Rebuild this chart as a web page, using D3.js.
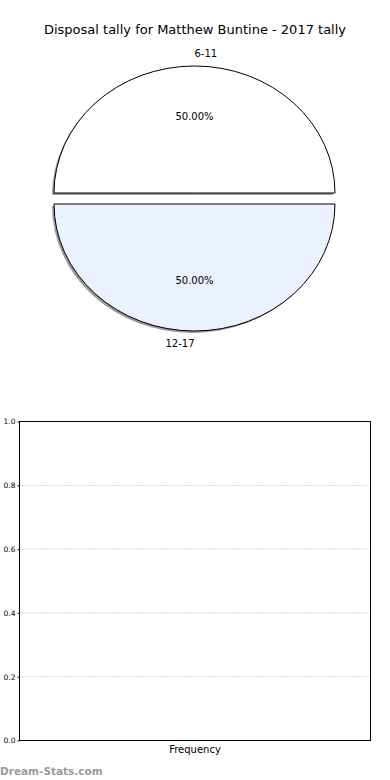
<!DOCTYPE html>
<html><head><meta charset="utf-8">
<script src="https://cdn.jsdelivr.net/npm/d3@7"></script>
<style>body{margin:0;background:#fff}svg{display:block;font-family:"DejaVu Sans",sans-serif}</style>
</head><body><svg id="c" width="390" height="780"></svg>
<script>
const title = "Disposal tally for Matthew Buntine - 2017 tally";
const categories = ["6-11", "12-17"];
const values = [1, 1];
const sliceColors = ["#ffffff", "#ebf1fe"];
const yTicks = [0.0, 0.2, 0.4, 0.6, 0.8, 1.0];
const xLabel = "Frequency";
const watermark = "Dream-Stats.com";

(function () {
const svg = d3.select("#c");
svg.append("text").attr("x", 195).attr("y", 34).attr("text-anchor", "middle")
  .attr("font-size", 13).text(title);

// Pie (elliptical, matplotlib-like)
const cx = 194.5, cy = 198.5, rx = 140.5, ry = 127, explode = 5.5;
const sy = ry / rx;
const pie = d3.pie().sort(null).startAngle(Math.PI / 2).endAngle(Math.PI / 2 - 2 * Math.PI);
const arcs = pie(values);
const arc = d3.arc().innerRadius(0).outerRadius(rx);
const total = d3.sum(values);
const g = svg.append("g");
arcs.forEach((a, i) => {
  const mid = (a.startAngle + a.endAngle) / 2;
  const ox = cx + Math.sin(mid) * explode, oy = cy - Math.cos(mid) * explode;
  g.append("path").attr("d", arc(a))
    .attr("transform", `translate(${ox - 2},${oy + 2}) scale(1,${sy})`)
    .attr("fill", "#7f7f7f").attr("opacity", 0.8);
});
arcs.forEach((a, i) => {
  const mid = (a.startAngle + a.endAngle) / 2;
  const ox = cx + Math.sin(mid) * explode, oy = cy - Math.cos(mid) * explode;
  g.append("path").attr("d", arc(a))
    .attr("transform", `translate(${ox},${oy}) scale(1,${sy})`)
    .attr("fill", sliceColors[i]).attr("stroke", "#000").attr("stroke-width", 1)
    .attr("vector-effect", "non-scaling-stroke");
  const px = ox + Math.sin(mid) * rx * 0.6, py = oy - Math.cos(mid) * ry * 0.6;
  g.append("text").attr("x", px).attr("y", py).attr("text-anchor", "middle")
    .attr("dominant-baseline", "central").attr("font-size", 10)
    .text((values[i] / total * 100).toFixed(2) + "%");
  const lx = ox + Math.sin(mid) * rx * 1.1, ly = oy - Math.cos(mid) * ry * 1.1;
  g.append("text").attr("x", lx).attr("y", ly)
    .attr("text-anchor", i === 0 ? "start" : "end")
    .attr("dominant-baseline", "central").attr("font-size", 10)
    .text(categories[i]);
});

// Empty bar axes
const L = 19.5, R = 370.5, T = 421.5, B = 740.5;
const y = d3.scaleLinear().domain([0, 1]).range([B, T]);
const ax = svg.append("g");
ax.selectAll("line.grid").data(yTicks).join("line").attr("class", "grid")
  .attr("x1", L).attr("x2", R).attr("y1", d => y(d)).attr("y2", d => y(d))
  .attr("stroke", "#a8a8a8").attr("stroke-width", 1).attr("stroke-dasharray", "1,2");
const yAxis = d3.axisLeft(y).tickValues(yTicks).tickFormat(d3.format(".1f")).tickSize(2).tickPadding(2);
const ya = ax.append("g").attr("transform", `translate(${L},0)`).call(yAxis);
ya.select(".domain").remove();
ya.selectAll("text").attr("font-size", 7.5).attr("font-family", "DejaVu Sans").attr("fill", "#000");
ya.selectAll("line").attr("stroke", "#000");
ax.append("rect").attr("x", L).attr("y", T).attr("width", R - L).attr("height", B - T)
  .attr("fill", "none").attr("stroke", "#000").attr("stroke-width", 1);
ax.append("text").attr("x", (L + R) / 2).attr("y", 753).attr("text-anchor", "middle")
  .attr("font-size", 10).text(xLabel);
svg.append("text").attr("x", 0).attr("y", 775).attr("font-size", 10.5).attr("font-weight", "bold")
  .attr("fill", "#9a9a9a").text(watermark);
})();
</script></body></html>
